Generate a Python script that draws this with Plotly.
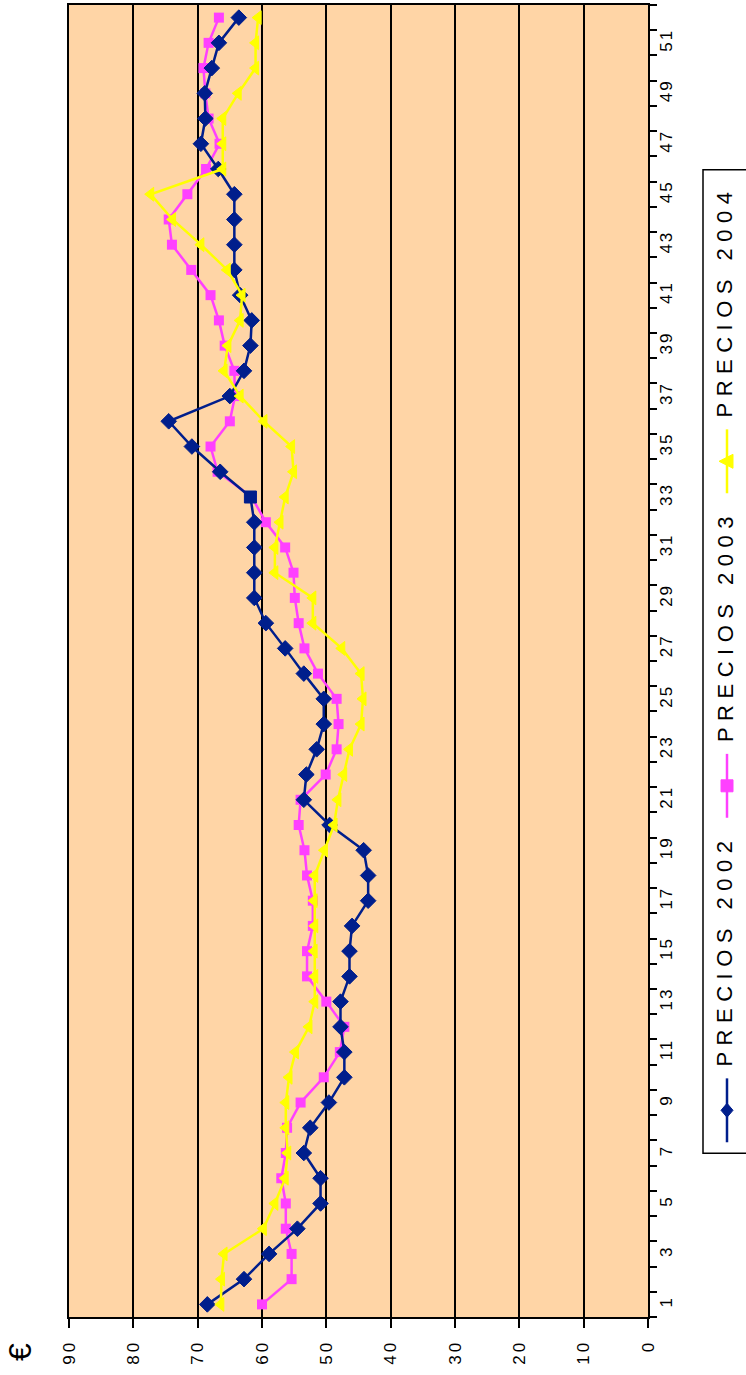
import plotly.graph_objects as go

# ---------------- data ----------------
weeks = list(range(1, 53))
precios_2002 = [68.5, 62.8, 58.9, 54.5, 50.9, 50.9, 53.5, 52.5, 49.6, 47.2,
                47.2, 47.8, 47.8, 46.4, 46.4, 46.0, 43.5, 43.5, 44.2, 49.5,
                53.5, 53.1, 51.5, 50.4, 50.4, 53.5, 56.4, 59.4, 61.2, 61.2,
                61.2, 61.2, 61.8, 66.5, 70.9, 74.5, 65.0, 62.8, 61.8, 61.6,
                63.4, 64.3, 64.3, 64.3, 64.3, 66.8, 69.5, 68.8, 68.9, 67.8,
                66.7, 63.6]
precios_2003 = [60.0, 55.4, 55.4, 56.3, 56.3, 57.0, 56.3, 56.1, 54.0, 50.4,
                47.9, 47.2, 50.0, 53.0, 53.0, 52.1, 52.1, 53.0, 53.4, 54.3,
                54.0, 50.1, 48.4, 48.1, 48.4, 51.3, 53.4, 54.3, 54.9, 55.1,
                56.4, 59.4, 61.6, 66.9, 68.0, 65.0, 64.2, 64.3, 65.8, 66.7,
                68.0, 71.0, 74.0, 74.5, 71.6, 68.7, 66.6, 68.3, 68.8, 69.1,
                68.3, 66.7]
precios_2004 = [66.4, 66.3, 65.9, 59.8, 58.0, 56.4, 56.0, 56.3, 56.3, 55.8,
                54.8, 52.7, 51.8, 51.8, 51.9, 51.8, 51.9, 51.8, 50.3, 48.8,
                48.2, 47.3, 46.4, 44.6, 44.3, 44.6, 47.6, 52.1, 52.1, 58.0,
                58.0, 57.2, 56.4, 55.1, 55.4, 59.7, 63.4, 65.9, 65.3, 63.4,
                63.1, 65.4, 69.5, 73.9, 77.3, 66.1, 66.1, 66.1, 63.7, 61.0,
                61.0, 60.6]
series_names = ["PRECIOS 2002", "PRECIOS 2003", "PRECIOS 2004"]
value_ticks = list(range(0, 100, 10))
week_ticks = list(range(1, 53, 2))
unit_label = "€"

# ---------------- styles ----------------
BLUE = "#001E8C"
MAG = "#FF40FF"
YEL = "#FFFF00"
BG = "#FFD5A6"
FONT = "Liberation Sans, Arial, sans-serif"

W, H = 746, 1375
L, R, T, B = 69, 648, 3, 1317


def px(x):
    return (x - L) / (R - L)


def py(y):
    return (B - y) / (B - T)


def spaced(s, sp):
    return '<span style="letter-spacing:%spx">%s</span>' % (sp, s)


fig = go.Figure()

fig.add_trace(go.Scatter(
    x=precios_2003, y=weeks, mode="lines+markers", name=series_names[1],
    line=dict(color=MAG, width=2.5),
    marker=dict(symbol="square", size=10, color=MAG, opacity=1,
                line=dict(width=0))))

blue_symbols = ["diamond"] * len(weeks)
blue_sizes = [12] * len(weeks)
blue_symbols[32] = "square"
fig.add_trace(go.Scatter(
    x=precios_2002, y=weeks, mode="lines+markers", name=series_names[0],
    line=dict(color=BLUE, width=2.5),
    marker=dict(symbol=blue_symbols, size=blue_sizes, color=BLUE, opacity=1,
                line=dict(width=1, color=BLUE))))

fig.add_trace(go.Scatter(
    x=precios_2004, y=weeks, mode="lines+markers", name=series_names[2],
    line=dict(color=YEL, width=2.5),
    marker=dict(symbol="triangle-left", size=12, color=YEL, opacity=1,
                line=dict(width=1, color=YEL))))

fig.update_layout(
    width=W, height=H,
    margin=dict(l=L, r=W - R, t=T, b=H - B, pad=0),
    paper_bgcolor="white", plot_bgcolor=BG,
    showlegend=False,
    font=dict(family=FONT, color="black"),
)

fig.update_xaxes(
    range=[90, 0], tickmode="array", tickvals=value_ticks,
    ticktext=[spaced(v, 3) for v in value_ticks],
    tickangle=-90, ticks="outside", ticklen=9, tickwidth=2, tickcolor="black",
    showgrid=True, gridcolor="black", gridwidth=1.5,
    showline=True, linecolor="black", linewidth=2, mirror=True,
    zeroline=False, tickfont=dict(size=17, family=FONT, color="black"),
    ticklabelstandoff=5,
)

fig.update_yaxes(
    range=[0.5, 52.5], side="right", tickmode="array", tickvals=week_ticks,
    ticktext=[spaced(v, 2) for v in week_ticks],
    tickangle=-90, ticks="", showgrid=False,
    showline=True, linecolor="black", linewidth=2, mirror=True,
    zeroline=False, tickfont=dict(size=17, family=FONT, color="black"),
    minor=dict(tickmode="array", tickvals=[k + 0.5 for k in range(0, 53)],
               ticks="outside", ticklen=7, tickwidth=2, tickcolor="black",
               showgrid=False),
    ticklabelstandoff=2,
)

# euro sign
fig.add_annotation(xref="paper", yref="paper", x=px(20), y=py(1352),
                   text=unit_label, showarrow=False, textangle=-90,
                   font=dict(size=32, family=FONT, color="black"),
                   xanchor="center", yanchor="middle")

# ---------------- custom rotated legend ----------------
fig.add_shape(type="rect", xref="paper", yref="paper",
              x0=px(703), x1=px(790), y0=py(1153), y1=py(168),
              line=dict(color="black", width=1.5), fillcolor="white", layer="above")

legend_items = [
    (BLUE, "M 0,7 L 6,0 L 0,-7 L -6,0 Z", 1142, series_names[0]),
    (MAG, "M -6,-6 H 6 V 6 H -6 Z", 817, series_names[1]),
    (YEL, "M -8,0 L 6,7 L 6,-7 Z", 492, series_names[2]),
]
for color, path, start, name in legend_items:
    fig.add_shape(type="line", xref="paper", yref="paper",
                  x0=px(727), x1=px(727), y0=py(start), y1=py(start - 64),
                  line=dict(color=color, width=2.5), layer="above")
    fig.add_shape(type="path", xref="paper", yref="paper",
                  xsizemode="pixel", ysizemode="pixel",
                  xanchor=px(727), yanchor=py(start - 32), path=path,
                  fillcolor=color, line=dict(color=color, width=1), layer="above")
    text_top = start - 75
    fig.add_annotation(xref="paper", yref="paper", x=px(725),
                       y=py(text_top - 117), text=spaced(name, 6.5),
                       showarrow=False, textangle=-90,
                       font=dict(size=22, family=FONT, color="black"),
                       xanchor="center", yanchor="middle")

fig.write_html(
    "out.html",
    config={"displayModeBar": False},
    post_script="document.documentElement.style.margin='0';"
                "document.body.style.margin='0';"
                "document.body.style.overflow='hidden';",
)
